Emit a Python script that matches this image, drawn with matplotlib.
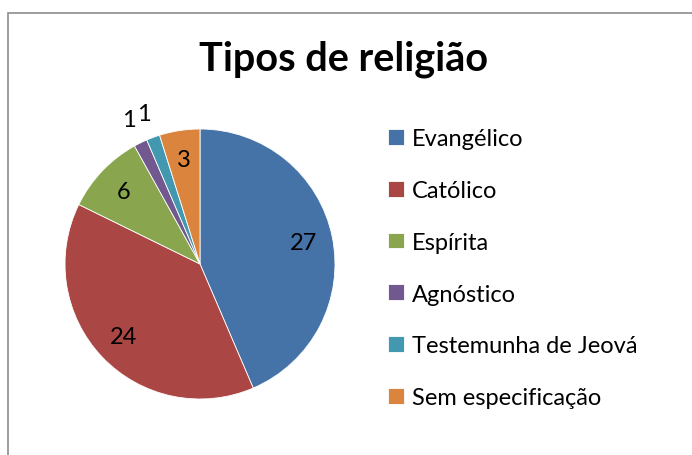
import matplotlib
matplotlib.use("Agg")
import matplotlib.pyplot as plt
from matplotlib.patches import Rectangle
import numpy as np

categories = ["Evangélico", "Católico", "Espírita", "Agnóstico",
              "Testemunha de Jeová", "Sem especificação"]
values = [27, 24, 6, 1, 1, 3]
colors = ["#4572A7", "#AA4643", "#89A54E", "#71588F", "#4198AF", "#DB843D"]

plt.rcParams['font.family'] = ['Lato', 'DejaVu Sans']

fig = plt.figure(figsize=(6.92, 4.56), dpi=100)

# moldura cinza (so esquerda e topo aparecem no recorte)
fig.add_artist(Rectangle((7.5 / 692, -0.1), 1.2, (456 - 13.5) / 456 + 0.1,
                         transform=fig.transFigure, fill=False,
                         edgecolor="#8c8c8c", linewidth=1.2))

fig.text(344 / 692, 1 - 59 / 456, "Tipos de religião", ha="center", va="center",
         fontsize=28.5, fontweight="bold")

# pizza centrada em (200, 265) com raio 135 px
ax = fig.add_axes([(200 - 135) / 692, (456 - 265 - 135) / 456, 270 / 692, 270 / 456])
wedges, _ = ax.pie(values, colors=colors, startangle=90, counterclock=False,
                   wedgeprops=dict(edgecolor="white", linewidth=0.6))
ax.set_xlim(-1, 1)
ax.set_ylim(-1, 1)
ax.axis("off")

for w, v in zip(wedges, values):
    ang = np.deg2rad((w.theta1 + w.theta2) / 2)
    r = 1.19 if v == 1 else 0.78
    ax.text(r * np.cos(ang), r * np.sin(ang), str(v), ha="center", va="center",
            fontsize=17)

leg = ax.legend(wedges, categories, loc="upper left",
                bbox_to_anchor=(379 / 692, 1 - 120 / 456), bbox_transform=fig.transFigure,
                frameon=False, fontsize=17, handlelength=0.65, handleheight=0.65,
                handletextpad=0.35, labelspacing=1.3, borderaxespad=0)

fig.savefig("out.png", dpi=100)
